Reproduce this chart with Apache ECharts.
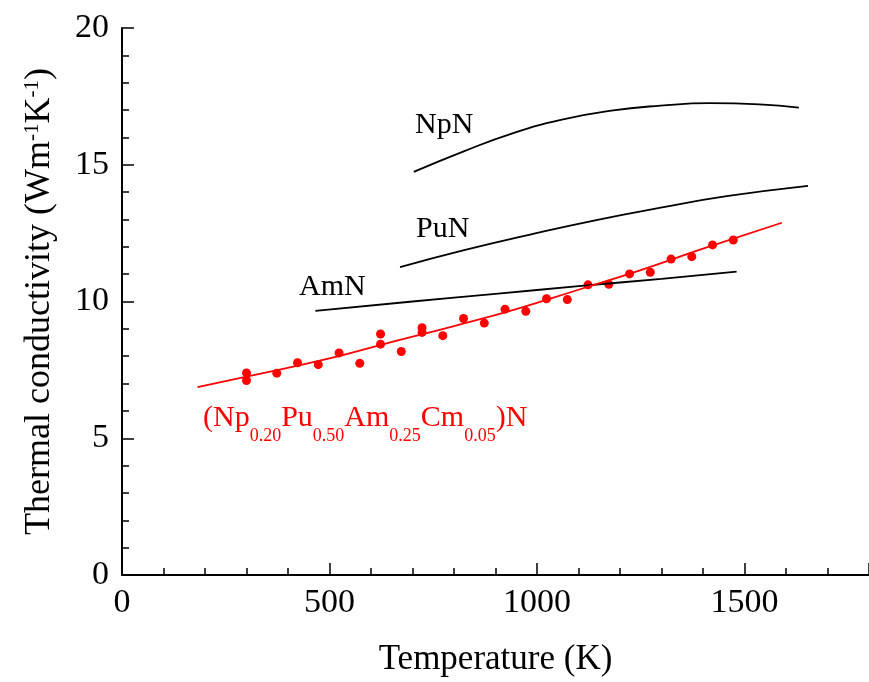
<!DOCTYPE html>
<html>
<head>
<meta charset="utf-8">
<script src="https://cdn.jsdelivr.net/npm/echarts@6/dist/echarts.min.js"></script>
<style>html,body{margin:0;padding:0;background:#fff;}#c{width:869px;height:682px;}</style>
</head>
<body>
<div id="c"></div>
<script>
// Measured data (Np0.20Pu0.50Am0.25Cm0.05)N
const measT = [300,300,373,423,473,523,573,623,623,673,723,723,773,823,873,923,973,1023,1073,1123,1173,1223,1273,1323,1373,1423,1473];
const measK = [7.39,7.11,7.38,7.76,7.69,8.12,7.74,8.81,8.44,8.17,9.04,8.87,8.75,9.38,9.21,9.72,9.64,10.10,10.07,10.61,10.63,11.01,11.07,11.55,11.64,12.07,12.25];
// Fitted curve
const fitT = [182,300,500,620,800,950,1100,1250,1400,1590];
const fitK = [6.87,7.25,7.92,8.40,9.10,9.72,10.43,11.15,11.93,12.88];
// Reference curves
const npnT = [703,822,941,1060,1179,1298,1417,1536,1631];
const npnK = [14.74,15.48,16.15,16.65,16.98,17.16,17.25,17.21,17.09];
const punT = [670,822,981,1140,1298,1457,1653];
const punK = [11.26,11.87,12.44,12.97,13.43,13.85,14.23];
const amnT = [466,700,900,1100,1300,1481];
const amnK = [9.66,10.00,10.28,10.56,10.83,11.09];
// Axis ticks
const xTicks = {min:0, max:1800, interval:500};
const yTicks = {min:0, max:20, interval:5};

const pair = (a,b) => a.map((v,i)=>[v,b[i]]);
const FONT = 'Liberation Serif';
const chart = echarts.init(document.getElementById('c'), null, {renderer:'canvas'});
const axisCommon = {
  axisLine:{show:true, lineStyle:{color:'#000', width:2}},
  axisTick:{show:true, inside:true, length:12, lineStyle:{color:'#000', width:1.5}},
  minorTick:{show:true, splitNumber:5, length:7, lineStyle:{color:'#000', width:1.5}},
  splitLine:{show:false}
};
chart.setOption({
  animation:false,
  backgroundColor:'#fff',
  grid:{left:122, top:28, width:756, height:554, containLabel:false},
  xAxis:Object.assign({type:'value', min:xTicks.min, max:xTicks.max, interval:xTicks.interval,
    name:'Temperature (K)', nameLocation:'middle', nameGap:67,
    nameTextStyle:{color:'#000', fontFamily:FONT, fontSize:35}}, axisCommon,
    {axisLabel:{color:'#000', fontFamily:FONT, fontSize:34, margin:11, showMaxLabel:false,
      formatter:(v)=>String(v)}}),
  yAxis:Object.assign({type:'value', min:yTicks.min, max:yTicks.max, interval:yTicks.interval,
    name:'{n|Thermal conductivity (Wm}{s|-1}{n|K}{s|-1}{n|)}', nameLocation:'middle', nameGap:64, nameRotate:90,
    nameTextStyle:{color:'#000', fontFamily:FONT, fontSize:36,
      rich:{n:{fontFamily:FONT, fontSize:36, lineHeight:36, verticalAlign:'bottom', color:'#000'},
            s:{fontFamily:FONT, fontSize:21, lineHeight:21, verticalAlign:'top', color:'#000'}}}}, axisCommon,
    {axisLabel:{color:'#000', fontFamily:FONT, fontSize:34, margin:13, formatter:(v)=>String(v)}}),
  series:[
    {type:'line', data:pair(npnT,npnK), smooth:true, symbol:'none', lineStyle:{color:'#000', width:1.8}},
    {type:'line', data:pair(punT,punK), smooth:true, symbol:'none', lineStyle:{color:'#000', width:1.8}},
    {type:'line', data:pair(amnT,amnK), smooth:true, symbol:'none', lineStyle:{color:'#000', width:1.8}},
    {type:'line', data:pair(fitT,fitK), smooth:true, symbol:'none', lineStyle:{color:'#ff0000', width:1.8}},
    {type:'scatter', data:pair(measT,measK), symbol:'circle', symbolSize:9, itemStyle:{color:'#ff0000', opacity:1}}
  ],
  graphic:[
    {type:'text', x:415, y:110, style:{text:'NpN', font:'30px "Liberation Serif"', fill:'#000'}},
    {type:'text', x:416, y:214, style:{text:'PuN', font:'30px "Liberation Serif"', fill:'#000'}},
    {type:'text', x:299, y:272, style:{text:'AmN', font:'30px "Liberation Serif"', fill:'#000'}},
    {type:'text', x:203, y:403, style:{
      text:'{m|(Np}{s|0.20}{m|Pu}{s|0.50}{m|Am}{s|0.25}{m|Cm}{s|0.05}{m|)N}',
      rich:{
        m:{fontFamily:FONT, fontSize:30, lineHeight:30, verticalAlign:'top', fill:'#ff0000'},
        s:{fontFamily:FONT, fontSize:18, lineHeight:18, padding:[24,0,0,0], verticalAlign:'top', fill:'#ff0000'}
      }}}
  ]
});
</script>
</body>
</html>
